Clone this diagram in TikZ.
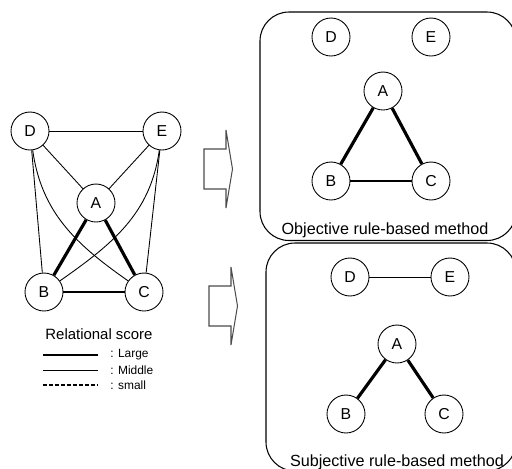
\documentclass[tikz,border=0pt]{standalone}
\usepackage{fontspec}
\setmainfont{Liberation Sans}
\tikzstyle{vertex}=[circle,draw,line width=0.5pt,minimum size=0.76cm,inner sep=0,font=\fontsize{9}{10}\selectfont]
\tikzstyle{weak}=[line width=0.5pt]
\tikzstyle{middle}=[line width=0.9pt]
\tikzstyle{strong}=[line width=1.8pt]
\tikzstyle{dashline}=[line width=0.8pt,dash pattern=on 2.2pt off 1.2pt]
\tikzstyle{panel}=[line width=0.6pt,rounded corners=0.58cm]
\tikzstyle{arrowline}=[line width=0.6pt,arrowcol,line join=miter]
\tikzstyle{legend}=[anchor=west,inner sep=0,font=\fontsize{6.8}{8}\selectfont]
\colorlet{arrowcol}{black!70}
\def\hollowarrow#1{\draw[arrowline] (#1) --++ (22,0) --++ (0,19) --++ (6.5,-39) --++ (-6.5,-39) --++ (0,19) --++ (-22,0) -- cycle}

\begin{document}
\begin{tikzpicture}[x=0.02cm,y=0.02cm]
        \useasboundingbox (0,0) rectangle (512,-468);
        \clip (0,0) rectangle (512,-468);
        
        % relational graph
        \node[vertex] (D) at (30,-131) {D};
        \node[vertex] (E) at (162,-131) {E};
        \node[vertex] (A) at (96,-203) {A};
        \node[vertex] (B) at (44,-292) {B};
        \node[vertex] (C) at (144,-292) {C};
        
        \draw[weak] (D) -- (E);
        \draw[weak] (D) -- (A);
        \draw[weak] (E) -- (A);
        \draw[weak] (D) -- (B);
        \draw[weak] (E) -- (C);
        \draw[weak] (D) to[out=-82,in=145] (C);
        \draw[weak] (E) to[out=-98,in=35] (B);
        \draw[strong] (A) -- (B);
        \draw[strong] (A) -- (C);
        \draw[middle] (B) -- (C);
        
        % legend
        \node[font=\fontsize{8.5}{10}\selectfont] (score) at (99,-334) {Relational score};
        \coordinate (Lbig) at (43,-355);
        \coordinate (Lmid) at (43,-370);
        \coordinate (Lsmall) at (43,-385);
        \draw[strong,line width=1.4pt] (Lbig) --++ (55,0);
        \draw[weak] (Lmid) --++ (55,0);
        \draw[dashline] (Lsmall) --++ (55,0);
        \node[legend] (large) at (110,-355) {: Large};
        \node[legend] (mid) at (110,-370) {: Middle};
        \node[legend] (small) at (110,-385) {: small};
        
        % arrows
        \hollowarrow{204,-149};
        \hollowarrow{209,-286};
        
        % objective rule-based result
        \draw[panel] (260,-12) rectangle (516,-240.5);
        \node[vertex] (D1) at (331,-37) {D};
        \node[vertex] (E1) at (431,-37) {E};
        \node[vertex] (A1) at (383,-91) {A};
        \node[vertex] (B1) at (331,-181) {B};
        \node[vertex] (C1) at (431,-181) {C};
        \draw[strong] (A1) -- (B1);
        \draw[strong] (A1) -- (C1);
        \draw[middle] (B1) -- (C1);
        \node[font=\fontsize{9.2}{11}\selectfont] (obj) at (385,-230) {Objective rule-based method};
        
        % subjective rule-based result
        \draw[panel] (266,-243) rectangle (516,-471);
        \node[vertex] (D2) at (350,-277) {D};
        \node[vertex] (E2) at (450,-277) {E};
        \node[vertex] (A2) at (397,-344) {A};
        \node[vertex] (B2) at (346,-414) {B};
        \node[vertex] (C2) at (444,-414) {C};
        \draw[weak] (D2) -- (E2);
        \draw[strong] (A2) -- (B2);
        \draw[strong] (A2) -- (C2);
        \node[font=\fontsize{9.2}{11}\selectfont] (subj) at (397,-462) {Subjective rule-based method};
    \end{tikzpicture}
\end{document}
